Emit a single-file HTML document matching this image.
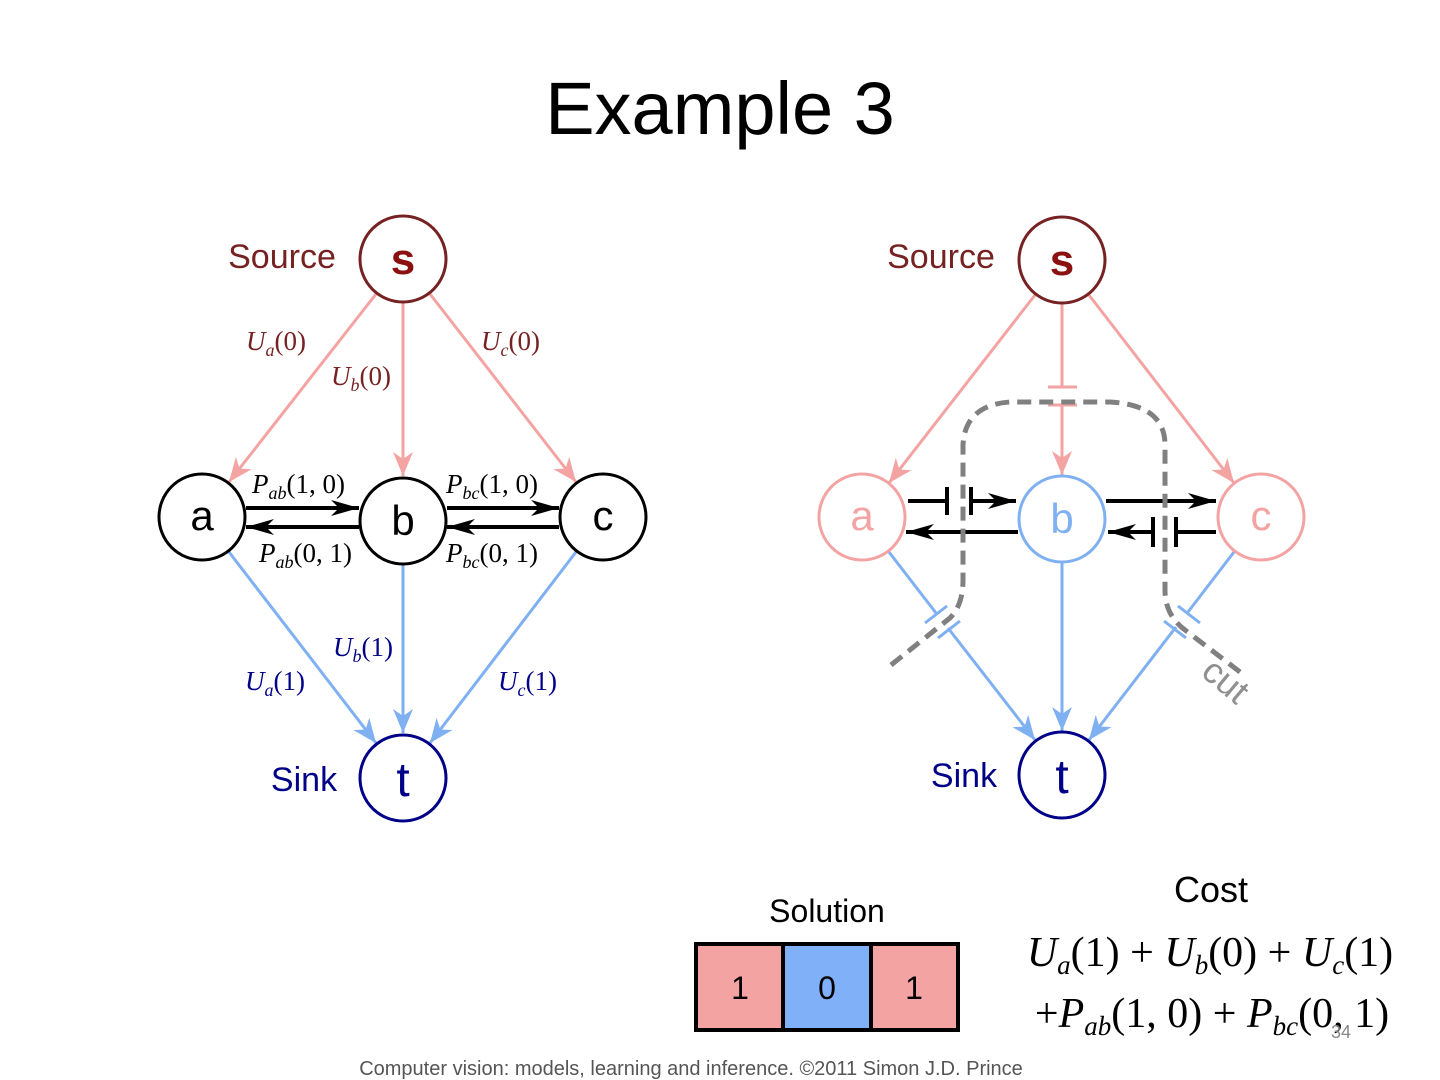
<!DOCTYPE html>
<html><head><meta charset="utf-8"><style>
html,body{margin:0;padding:0;background:#fff;}
svg{display:block;}
.m{font-family:"Liberation Serif",serif;font-style:italic;}
.r{font-style:normal;}
</style></head><body>
<svg width="1440" height="1080" viewBox="0 0 1440 1080" xmlns="http://www.w3.org/2000/svg">
<defs>
<marker id="ap" markerUnits="userSpaceOnUse" markerWidth="30" markerHeight="24" refX="24" refY="12" orient="auto"><path d="M0,2 L24,12 L0,22 L7,12 Z" fill="#f4a3a3"/></marker>
<marker id="ab" markerUnits="userSpaceOnUse" markerWidth="30" markerHeight="24" refX="24" refY="12" orient="auto"><path d="M0,2 L24,12 L0,22 L7,12 Z" fill="#7fb0f2"/></marker>
<marker id="ak" markerUnits="userSpaceOnUse" markerWidth="32" markerHeight="22" refX="28" refY="11" orient="auto"><path d="M0,3 L28,11 L0,19 L8,11 Z" fill="#000"/></marker>
</defs>
<text x="720" y="134" text-anchor="middle" font-family="Liberation Sans,sans-serif" font-size="74">Example 3</text>

<!-- LEFT GRAPH -->
<g stroke-width="3" fill="none">
<line x1="376" y1="294" x2="229" y2="482" stroke="#f4a3a3" marker-end="url(#ap)"/>
<line x1="403" y1="303" x2="403" y2="476" stroke="#f4a3a3" marker-end="url(#ap)"/>
<line x1="430" y1="294" x2="576" y2="482" stroke="#f4a3a3" marker-end="url(#ap)"/>
<line x1="229" y1="552" x2="376" y2="743" stroke="#7fb0f2" marker-end="url(#ab)"/>
<line x1="403" y1="565" x2="403" y2="733" stroke="#7fb0f2" marker-end="url(#ab)"/>
<line x1="576" y1="552" x2="430" y2="743" stroke="#7fb0f2" marker-end="url(#ab)"/>
<line x1="246" y1="508" x2="359" y2="508" stroke="#000" stroke-width="4" marker-end="url(#ak)"/>
<line x1="359" y1="527" x2="246" y2="527" stroke="#000" stroke-width="4" marker-end="url(#ak)"/>
<line x1="447" y1="508" x2="559" y2="508" stroke="#000" stroke-width="4" marker-end="url(#ak)"/>
<line x1="559" y1="527" x2="447" y2="527" stroke="#000" stroke-width="4" marker-end="url(#ak)"/>
</g>
<g stroke-width="3" fill="#fff">
<circle cx="403" cy="259" r="43" stroke="#722"/>
<circle cx="202" cy="517" r="43" stroke="#000"/>
<circle cx="403" cy="521" r="43" stroke="#000"/>
<circle cx="603" cy="517" r="43" stroke="#000"/>
<circle cx="403" cy="778" r="43" stroke="#008"/>
</g>
<g font-family="Liberation Sans,sans-serif" text-anchor="middle">
<text x="403" y="274" font-size="44" font-weight="bold" fill="#8b1010">s</text>
<text x="202" y="530" font-size="42">a</text>
<text x="403" y="535" font-size="42">b</text>
<text x="603" y="530" font-size="42">c</text>
<text x="403" y="796" font-size="48" fill="#008">t</text>
<text x="282" y="268" font-size="34" fill="#722">Source</text>
<text x="304" y="791" font-size="34" fill="#008">Sink</text>
</g>
<g class="m" font-size="27">
<text x="246" y="350" fill="#722">U<tspan font-size="18" dy="6">a</tspan><tspan class="r" dy="-6">(0)</tspan></text>
<text x="331" y="385" fill="#722">U<tspan font-size="18" dy="6">b</tspan><tspan class="r" dy="-6">(0)</tspan></text>
<text x="481" y="350" fill="#722">U<tspan font-size="18" dy="6">c</tspan><tspan class="r" dy="-6">(0)</tspan></text>
<text x="333" y="656" fill="#008">U<tspan font-size="18" dy="6">b</tspan><tspan class="r" dy="-6">(1)</tspan></text>
<text x="245" y="690" fill="#008">U<tspan font-size="18" dy="6">a</tspan><tspan class="r" dy="-6">(1)</tspan></text>
<text x="498" y="690" fill="#008">U<tspan font-size="18" dy="6">c</tspan><tspan class="r" dy="-6">(1)</tspan></text>
<text x="252" y="493">P<tspan font-size="18" dy="6">ab</tspan><tspan class="r" dy="-6">(1, 0)</tspan></text>
<text x="446" y="493">P<tspan font-size="18" dy="6">bc</tspan><tspan class="r" dy="-6">(1, 0)</tspan></text>
<text x="259" y="562">P<tspan font-size="18" dy="6">ab</tspan><tspan class="r" dy="-6">(0, 1)</tspan></text>
<text x="446" y="562">P<tspan font-size="18" dy="6">bc</tspan><tspan class="r" dy="-6">(0, 1)</tspan></text>
</g>

<!-- RIGHT GRAPH -->
<g stroke-width="3" fill="none">
<line x1="1035" y1="295" x2="889" y2="483" stroke="#f4a3a3" marker-end="url(#ap)"/>
<line x1="1062" y1="304" x2="1062" y2="387" stroke="#f4a3a3"/>
<line x1="1062" y1="405" x2="1062" y2="475" stroke="#f4a3a3" marker-end="url(#ap)"/>
<line x1="1048" y1="387" x2="1077" y2="387" stroke="#f4a3a3"/>
<line x1="1048" y1="405" x2="1077" y2="405" stroke="#f4a3a3"/>
<line x1="1089" y1="295" x2="1234" y2="483" stroke="#f4a3a3" marker-end="url(#ap)"/>
<line x1="889" y1="552" x2="936" y2="613" stroke="#7fb0f2"/>
<line x1="948" y1="628" x2="1035" y2="740" stroke="#7fb0f2" marker-end="url(#ab)"/>
<line x1="925" y1="623" x2="947" y2="606" stroke="#7fb0f2"/>
<line x1="938" y1="638" x2="960" y2="621" stroke="#7fb0f2"/>
<line x1="1062" y1="563" x2="1062" y2="731" stroke="#7fb0f2" marker-end="url(#ab)"/>
<line x1="1234" y1="552" x2="1188" y2="612" stroke="#7fb0f2"/>
<line x1="1176" y1="627" x2="1089" y2="740" stroke="#7fb0f2" marker-end="url(#ab)"/>
<line x1="1178" y1="606" x2="1200" y2="623" stroke="#7fb0f2"/>
<line x1="1164" y1="621" x2="1186" y2="638" stroke="#7fb0f2"/>
<g stroke="#000" stroke-width="4">
<line x1="908" y1="501" x2="947" y2="501"/>
<line x1="947" y1="487" x2="947" y2="515"/>
<line x1="971" y1="487" x2="971" y2="515"/>
<line x1="971" y1="501" x2="1016" y2="501" marker-end="url(#ak)"/>
<line x1="1018" y1="532" x2="906" y2="532" marker-end="url(#ak)"/>
<line x1="1106" y1="501" x2="1216" y2="501" marker-end="url(#ak)"/>
<line x1="1216" y1="532" x2="1176" y2="532"/>
<line x1="1176" y1="517" x2="1176" y2="547"/>
<line x1="1153" y1="517" x2="1153" y2="547"/>
<line x1="1153" y1="532" x2="1108" y2="532" marker-end="url(#ak)"/>
</g>
<path d="M891,665 L950,618 Q963,605 963,580 L963,445 Q965,405 1010,402 L1110,402 Q1165,405 1165,445 L1165,590 Q1165,615 1185,630 L1244,675" stroke="#808080" stroke-width="5" stroke-dasharray="14,8"/>
</g>
<g stroke-width="3" fill="#fff">
<circle cx="1062" cy="260" r="43" stroke="#722"/>
<circle cx="862" cy="517" r="43" stroke="#f4a3a3"/>
<circle cx="1062" cy="519" r="43" stroke="#7fb0f2"/>
<circle cx="1261" cy="517" r="43" stroke="#f4a3a3"/>
<circle cx="1062" cy="775" r="43" stroke="#008"/>
</g>
<g font-family="Liberation Sans,sans-serif" text-anchor="middle">
<text x="1062" y="275" font-size="44" font-weight="bold" fill="#8b1010">s</text>
<text x="862" y="530" font-size="42" fill="#f4a3a3">a</text>
<text x="1062" y="533" font-size="42" fill="#7fb0f2">b</text>
<text x="1261" y="530" font-size="42" fill="#f4a3a3">c</text>
<text x="1062" y="793" font-size="48" fill="#008">t</text>
<text x="941" y="268" font-size="34" fill="#722">Source</text>
<text x="964" y="787" font-size="34" fill="#008">Sink</text>
<text x="1218" y="690" font-size="36" fill="#909090" transform="rotate(40 1218 690)">cut</text>
<text x="827" y="922" font-size="32">Solution</text>
<text x="1211" y="902" font-size="36">Cost</text>
</g>
<g stroke="#000" stroke-width="4">
<rect x="696" y="944" width="87" height="86" fill="#f4a3a3"/>
<rect x="783" y="944" width="88" height="86" fill="#7fb0f8"/>
<rect x="871" y="944" width="87" height="86" fill="#f4a3a3"/>
</g>
<g font-family="Liberation Sans,sans-serif" font-size="32" text-anchor="middle">
<text x="740" y="999">1</text><text x="827" y="999">0</text><text x="914" y="999">1</text>
</g>
<g class="m" font-size="42" text-anchor="middle">
<text x="1210" y="966">U<tspan font-size="27" dy="8">a</tspan><tspan class="r" dy="-8">(1) + </tspan>U<tspan font-size="27" dy="8">b</tspan><tspan class="r" dy="-8">(0) + </tspan>U<tspan font-size="27" dy="8">c</tspan><tspan class="r" dy="-8">(1)</tspan></text>
<text x="1212" y="1027"><tspan class="r">+</tspan>P<tspan font-size="27" dy="8">ab</tspan><tspan class="r" dy="-8">(1, 0) + </tspan>P<tspan font-size="27" dy="8">bc</tspan><tspan class="r" dy="-8">(0, 1)</tspan></text>
</g>
<text x="1341" y="1038" text-anchor="middle" font-family="Liberation Sans,sans-serif" font-size="18" fill="#888">34</text>
<text x="691" y="1075" text-anchor="middle" font-family="Liberation Sans,sans-serif" font-size="20" fill="#555">Computer vision: models, learning and inference.  ©2011 Simon J.D. Prince</text>
</svg>
</body></html>
